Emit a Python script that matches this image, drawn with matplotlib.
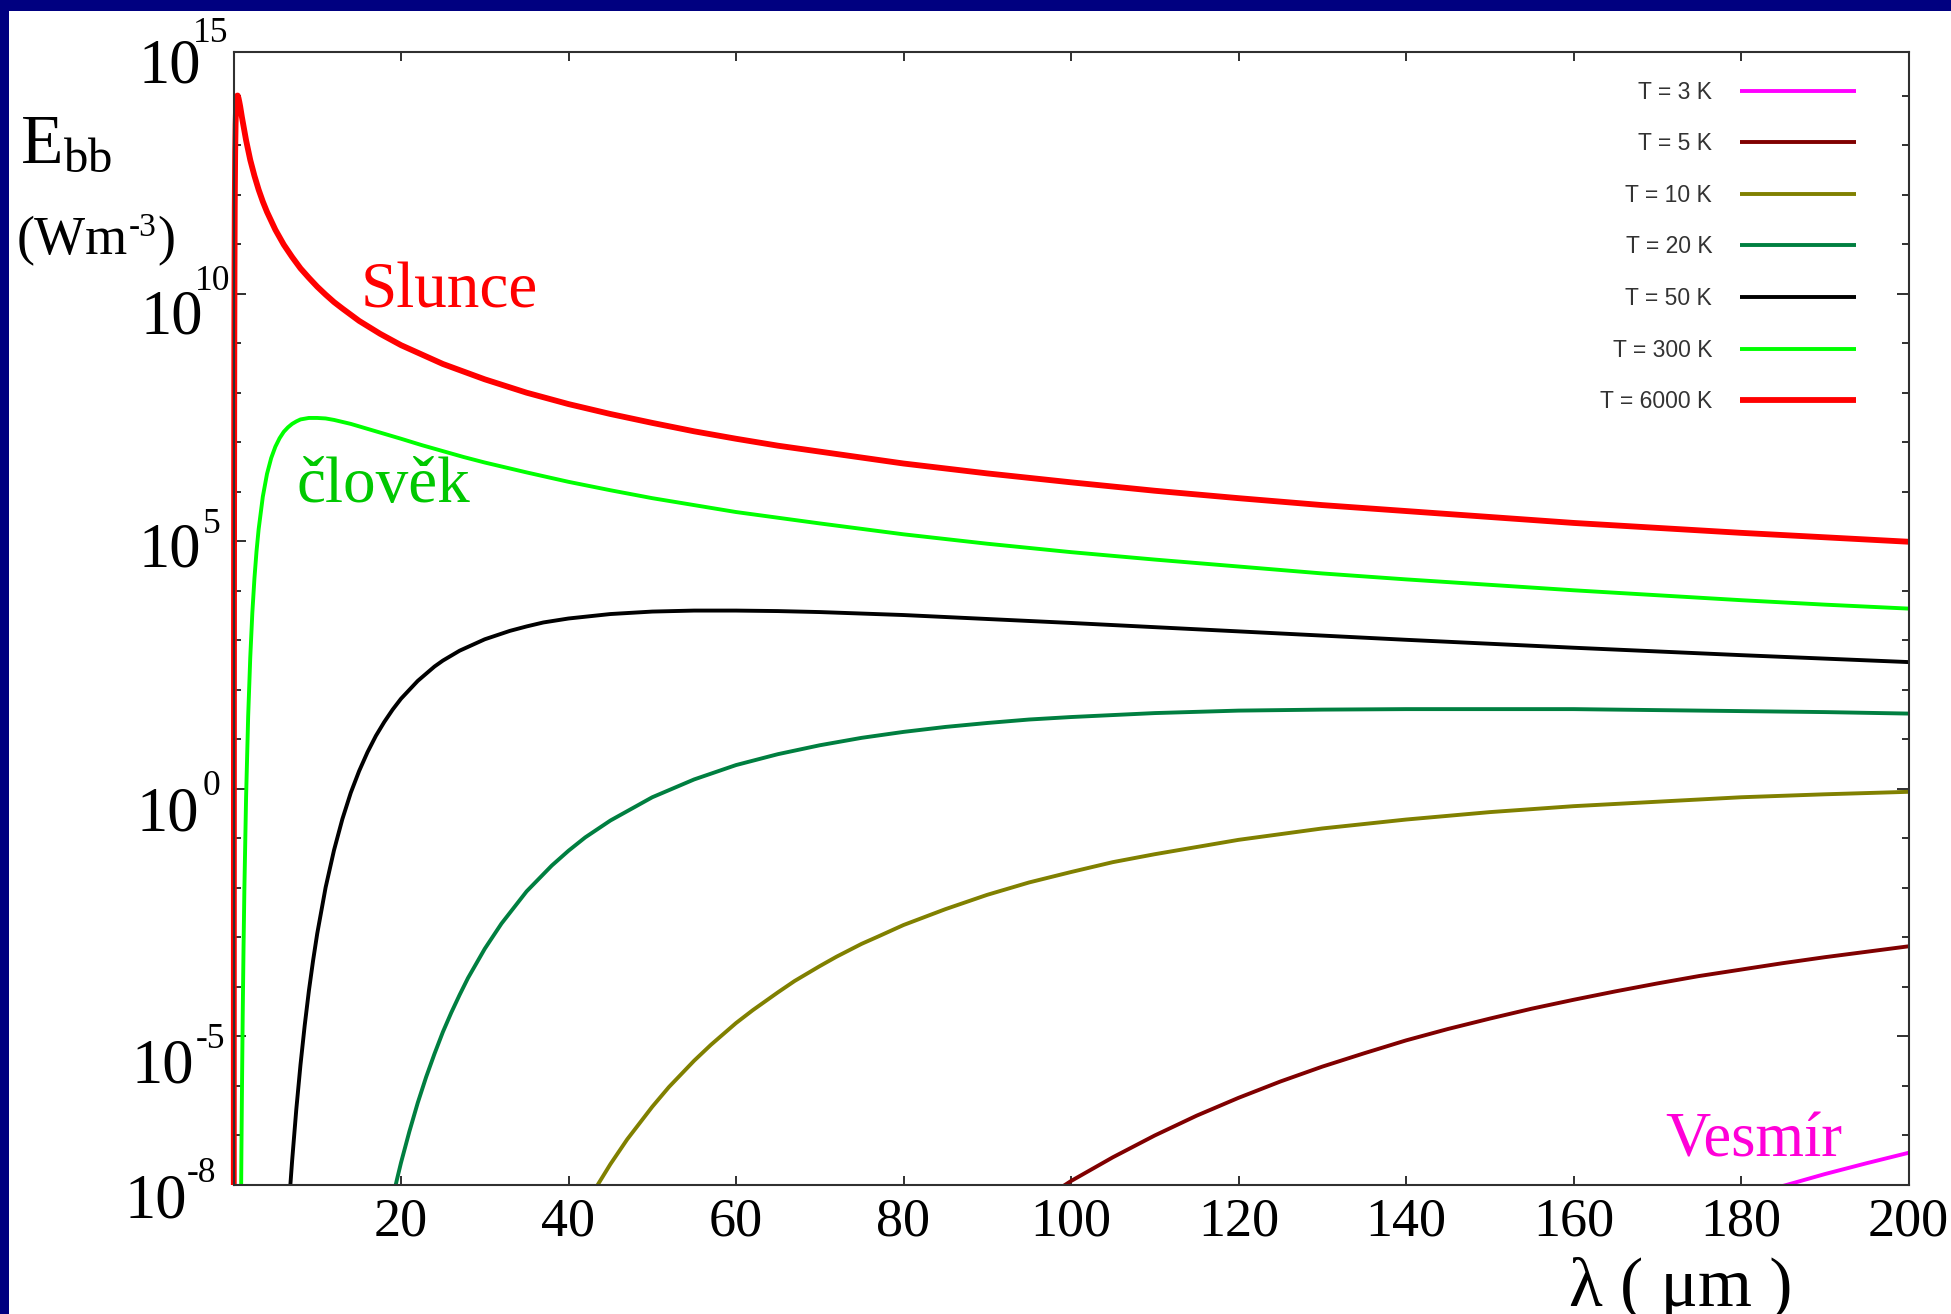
import numpy as np
import matplotlib
matplotlib.use("Agg")
import matplotlib.pyplot as plt
from matplotlib.patches import Rectangle
from matplotlib.ticker import NullFormatter
from matplotlib.transforms import Bbox, TransformedBbox, blended_transform_factory, offset_copy

# ---------------------------------------------------------------------------
# Black-body spectral exitance E_bb (log10 of W m^-3) against wavelength (µm)
# ---------------------------------------------------------------------------
lam_3 = [180, 185, 190, 195, 200]
loge_3 = [-8.28, -8.02, -7.78, -7.56, -7.35]

lam_5 = [95, 97, 100, 105, 110, 115, 120, 125, 130, 135, 140, 145, 150, 155, 160, 165,
         170, 175, 180, 185, 190, 195, 200]
loge_5 = [-8.47, -8.25, -7.92, -7.44, -7.00, -6.60, -6.24, -5.91, -5.61, -5.34, -5.08,
          -4.85, -4.64, -4.44, -4.26, -4.09, -3.93, -3.78, -3.65, -3.52, -3.40, -3.29, -3.18]

lam_10 = [40, 41, 42, 43, 45, 47, 50, 52, 55, 57, 60, 62, 65, 67, 70, 72, 75, 77, 80, 85,
          90, 95, 100, 105, 110, 120, 130, 140, 150, 160, 170, 180, 190, 200]
loge_10 = [-9.06, -8.73, -8.42, -8.13, -7.58, -7.08, -6.42, -6.02, -5.49, -5.17,
           -4.73, -4.47, -4.11, -3.88, -3.58, -3.39, -3.13, -2.98, -2.75, -2.43,
           -2.14, -1.89, -1.68, -1.48, -1.32, -1.03, -0.80, -0.62, -0.47, -0.35,
           -0.26, -0.17, -0.11, -0.06]

lam_20 = [18, 18.5, 19, 19.5, 20, 21, 22, 23, 24, 25, 26, 27, 28, 30, 32, 35, 38, 40, 42, 45,
          50, 55, 60, 65, 70, 75, 80, 85, 90, 95, 100, 110, 120, 130, 140, 150, 160, 170,
          180, 190, 200]
loge_20 = [-9.06, -8.65, -8.27, -7.90, -7.55, -6.92, -6.34, -5.82, -5.35, -4.91,
           -4.52, -4.16, -3.82, -3.23, -2.72, -2.07, -1.55, -1.25, -0.98, -0.64,
           -0.17, 0.19, 0.48, 0.70, 0.88, 1.03, 1.15, 1.25, 1.33, 1.40, 1.45, 1.53,
           1.58, 1.60, 1.61, 1.61, 1.61, 1.59, 1.57, 1.55, 1.52]

lam_50 = [6, 6.25, 6.5, 6.75, 7, 7.5, 8, 8.5, 9, 9.5, 10, 11, 12, 13, 14, 15, 16, 17, 18, 19,
          20, 22, 24, 25, 27, 30, 33, 35, 37, 40, 45, 50, 55, 60, 65, 70, 80, 90, 100, 120,
          140, 160, 180, 200]
loge_50 = [-10.15, -9.40, -8.72, -8.09, -7.51, -6.47, -5.57, -4.78, -4.08, -3.47,
           -2.92, -1.99, -1.24, -0.61, -0.08, 0.36, 0.74, 1.07, 1.35, 1.60,
           1.82, 2.18, 2.47, 2.59, 2.79, 3.02, 3.19, 3.28, 3.36, 3.44,
           3.53, 3.58, 3.60, 3.60, 3.59, 3.57, 3.51, 3.43, 3.35, 3.18,
           3.01, 2.85, 2.70, 2.56]

lam_300 = [0.9, 0.95, 1.0, 1.1, 1.2, 1.3, 1.5, 1.75, 2, 2.25, 2.5, 2.75, 3, 3.5, 4, 4.5, 5,
           5.5, 6, 6.5, 7, 7.5, 8, 9, 10, 11, 12, 13, 14, 15, 17, 18, 20, 22.5, 25, 27.5,
           30, 35, 40, 45, 50, 55, 60, 70, 80, 90, 100, 110, 120, 130, 140, 150, 160, 170,
           180, 190, 200]
loge_300 = [-8.34, -7.24, -6.26, -4.57, -3.18, -2.02, -0.19, 1.46, 2.65, 3.56,
            4.25, 4.80, 5.24, 5.90, 6.36, 6.68, 6.91, 7.08, 7.21, 7.30,
            7.37, 7.42, 7.46, 7.49, 7.49, 7.48, 7.45, 7.41, 7.37, 7.32,
            7.22, 7.17, 7.07, 6.94, 6.82, 6.70, 6.59, 6.39, 6.20, 6.03,
            5.87, 5.73, 5.59, 5.36, 5.14, 4.95, 4.78, 4.63, 4.49, 4.35,
            4.23, 4.12, 4.01, 3.91, 3.81, 3.72, 3.64]

lam_6000 = [0.03, 0.04, 0.05, 0.06, 0.07, 0.085, 0.1, 0.12, 0.15, 0.2, 0.25, 0.3, 0.35, 0.4,
            0.45, 0.5, 0.6, 0.7, 0.8, 1.0, 1.5, 2, 2.5, 3, 3.5, 4, 5, 6, 7, 8, 9, 10, 11, 12,
            13, 15, 17.5, 20, 25, 30, 35, 40, 45, 50, 55, 60, 65, 70, 75, 80, 90, 100, 110,
            120, 130, 140, 150, 160, 170, 180, 190, 200]
loge_6000 = [-12.53, -4.47, 0.25, 3.33, 5.47, 7.67, 9.16, 10.50, 11.75, 12.86,
             13.42, 13.72, 13.88, 13.96, 14.00, 14.00, 13.95, 13.87, 13.78, 13.57,
             13.10, 12.70, 12.38, 12.10, 11.86, 11.65, 11.29, 10.99, 10.74, 10.51,
             10.32, 10.14, 9.98, 9.83, 9.70, 9.45, 9.19, 8.96, 8.58, 8.27,
             8.00, 7.77, 7.57, 7.39, 7.22, 7.07, 6.93, 6.81, 6.69, 6.57,
             6.37, 6.19, 6.02, 5.87, 5.73, 5.61, 5.49, 5.37, 5.27, 5.17,
             5.08, 4.99]

series_labels = ["T = 3 K", "T = 5 K", "T = 10 K", "T = 20 K", "T = 50 K", "T = 300 K", "T = 6000 K"]
series_colors = ["#FF00FF", "#800000", "#808000", "#007F40", "#000000", "#00FF00", "#FF0000"]
series_widths = [2.8, 2.8, 2.8, 2.8, 2.8, 2.8, 4.2]

x_ticks = [20, 40, 60, 80, 100, 120, 140, 160, 180, 200]
y_major_exps = [-5, 0, 5, 10]
y_label_exps = [15, 10, 5, 0, -5, -8]
y_label_text = ["15", "10", "5", "0", "-5", "-8"]

# ---------------------------------------------------------------------------
W, H, DPI = 1951, 1314, 100
plt.rcParams["font.family"] = ["Liberation Serif", "DejaVu Serif"]
plt.rcParams["mathtext.fontset"] = "custom"
plt.rcParams["mathtext.rm"] = "Liberation Serif"
plt.rcParams["mathtext.it"] = "Liberation Serif:italic"

fig = plt.figure(figsize=(W / DPI, H / DPI), dpi=DPI, facecolor="white")

# navy slide border along the left and top edges
fig.add_artist(Rectangle((0, 0), 9 / W, 1, transform=fig.transFigure,
                         facecolor="#000080", edgecolor="none", zorder=-5))
fig.add_artist(Rectangle((0, 1 - 11 / H), 1, 11 / H, transform=fig.transFigure,
                         facecolor="#000080", edgecolor="none", zorder=-5))

ax_l, ax_r, ax_t, ax_b = 233.5, 1908.5, 52, 1185
ax = fig.add_axes([ax_l / W, 1 - ax_b / H, (ax_r - ax_l) / W, (ax_b - ax_t) / H])
ax.set_yscale("log")
ax.set_xlim(0, 200)
ax.set_ylim(1e-8, 10 ** 14.88)

curves = [(lam_3, loge_3), (lam_5, loge_5), (lam_10, loge_10), (lam_20, loge_20),
          (lam_50, loge_50), (lam_300, loge_300), (lam_6000, loge_6000)]
clip = TransformedBbox(Bbox([[-0.004, 0.0], [1.0, 1.0]]), ax.transAxes)
for (lam, loge), lab, col, lw in zip(curves, series_labels, series_colors, series_widths):
    ln, = ax.plot(lam, 10.0 ** np.asarray(loge), color=col, lw=lw, label=lab,
                  solid_capstyle="butt", solid_joinstyle="round")
    ln.set_clip_box(clip)

# frame and ticks
for sp in ax.spines.values():
    sp.set_color("#303030")
    sp.set_linewidth(1.5)
    sp.set_zorder(5)

ax.set_xticks(x_ticks)
ax.set_xticklabels([str(v) for v in x_ticks], fontsize=39)
ax.tick_params(axis="x", which="major", direction="in", length=6.8, width=1.4,
               top=True, bottom=True, pad=8.5, color="#303030")
ax.tick_params(axis="x", which="minor", bottom=False, top=False)

ax.set_yticks([10.0 ** e for e in y_major_exps])
ax.set_yticks([10.0 ** e for e in range(-7, 15) if e not in y_major_exps], minor=True)
ax.yaxis.set_major_formatter(NullFormatter())
ax.yaxis.set_minor_formatter(NullFormatter())
ax.tick_params(axis="y", which="major", direction="in", length=8.6, width=1.4,
               left=True, right=True, labelleft=False, color="#303030")
ax.tick_params(axis="y", which="minor", direction="in", length=4.7, width=1.4,
               left=True, right=True, color="#303030")

# power-of-ten labels on the y axis, each set by hand
base_dx = [-32.5, -30.5, -32.5, -34.5, -39.5, -46.5]
base_dy = [36.0, 39.4, 24.8, 41.2, 45.6, 32.0]
sup_dx = [-40.5, -38.5, -30.5, -30.5, -37.5, -46.5]
sup_dy = [-4.0, -3.6, -8.2, 6.2, 11.6, -3.0]
ytrans = blended_transform_factory(ax.transAxes, ax.transData)
for e, txt, bx, by, sx, sy in zip(y_label_exps, y_label_text, base_dx, base_dy, sup_dx, sup_dy):
    ax.text(0, 10.0 ** e, "10", fontsize=45, ha="right", va="baseline",
            transform=offset_copy(ytrans, fig=fig, x=bx, y=-by, units="dots"), clip_on=False)
    ax.text(0, 10.0 ** e, txt, fontsize=25.5, ha="left", va="baseline",
            transform=offset_copy(ytrans, fig=fig, x=sx, y=-sy, units="dots"), clip_on=False)

# curve names
ax.text(15.2, 10 ** 9.73, "Slunce", color="#FF0000", fontsize=47, ha="left", va="baseline")
ax.text(7.5, 10 ** 5.79, "člověk", color="#00C800", fontsize=47, ha="left", va="baseline")
ax.text(171, 10 ** -7.43, "Vesmír", color="#FF00D8", fontsize=45, ha="left", va="baseline")

# legend: labels on the left, right-aligned against their line samples
leg = ax.legend(loc="upper right", bbox_to_anchor=(0.9687, 0.9745), frameon=False,
                markerfirst=False, prop={"family": "Liberation Sans", "size": 16.5},
                handlelength=5.05, handletextpad=1.23, labelspacing=1.245,
                borderpad=0, borderaxespad=0)
for col in leg._legend_handle_box.get_children():
    col.align = "right"
for t in leg.get_texts():
    t.set_color("#333333")

# axis titles
fig.text(20 / W, 1 - 162 / H, r"E$_{\rm bb}$", fontsize=50, ha="left", va="baseline")
fig.text(1681 / W, 1 - 1306 / H, "λ ( μm )", fontsize=50, ha="center", va="baseline")

# unit label built from pieces so the exponent keeps a plain hyphen
renderer = fig.canvas.get_renderer()
u1 = fig.text(17 / W, 1 - 254 / H, "(Wm", fontsize=39, ha="left", va="baseline")
x_next = u1.get_window_extent(renderer).x1 + 1
u2 = fig.text(x_next / W, 1 - 236 / H, "-3", fontsize=24, ha="left", va="baseline")
x_next = u2.get_window_extent(renderer).x1
fig.text(x_next / W, 1 - 254 / H, ")", fontsize=39, ha="left", va="baseline")

fig.savefig("out.png", dpi=DPI, facecolor="white")
